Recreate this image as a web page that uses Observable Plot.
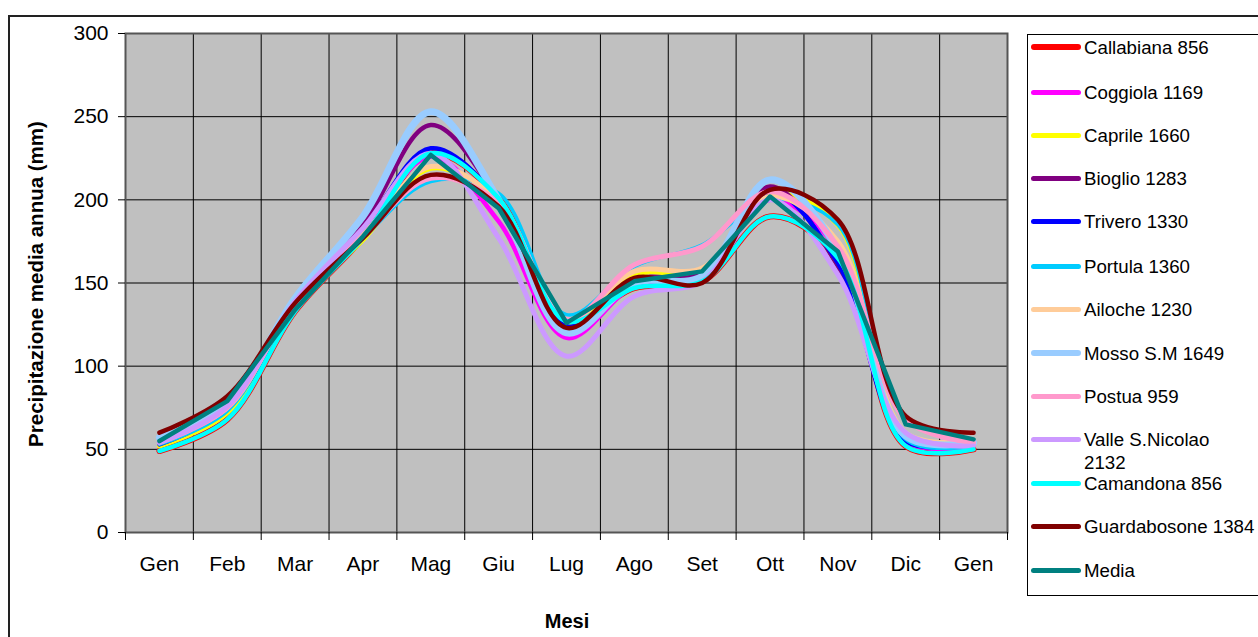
<!DOCTYPE html>
<html>
<head>
<meta charset="utf-8">
<script src="https://cdn.jsdelivr.net/npm/d3@7"></script>
<script src="https://cdn.jsdelivr.net/npm/@observablehq/plot@0.6"></script>
<style>
  html, body { margin: 0; padding: 0; background: #fff; }
  body { width: 1258px; height: 637px; position: relative; overflow: hidden; font-family: "Liberation Sans", Arial, sans-serif; }
  #outer { position: absolute; left: 8px; top: 15px; width: 1260px; height: 640px; border-left: 2px solid #222; border-top: 2px solid #222; box-sizing: border-box; }
  #chart { position: absolute; left: 0; top: 0; }
  #ytitle { position: absolute; left: 36px; top: 284px; transform: translate(-50%, -50%) rotate(-90deg); font-weight: bold; font-size: 20.5px; white-space: nowrap; }
  #xtitle { position: absolute; left: 567px; top: 621px; transform: translate(-50%, -50%); font-weight: bold; font-size: 20px; }
  #legend { position: absolute; left: 1027px; top: 34px; width: 240px; height: 562px; border: 1px solid #000; box-sizing: border-box; background: #fff; }
  .item { position: absolute; left: 0; width: 240px; }
  .swatch { position: absolute; left: 3px; width: 50px; border-radius: 3px; }
  .label { position: absolute; left: 56px; font-size: 18.7px; line-height: 23px; width: 172px; }
</style>
</head>
<body>
<div id="outer"></div>
<div id="chart"></div>
<div id="ytitle">Precipitazione media annua (mm)</div>
<div id="xtitle">Mesi</div>
<div id="legend"></div>
<script>
// Month labels (x categories)
const months = ["Gen","Feb","Mar","Apr","Mag","Giu","Lug","Ago","Set","Ott","Nov","Dic","Gen"];
const yTicks = [0, 50, 100, 150, 200, 250, 300];

// Station names and colours
const stations = ["Callabiana 856","Coggiola 1169","Caprile 1660","Bioglio 1283","Trivero 1330","Portula 1360","Ailoche 1230","Mosso S.M 1649","Postua 959","Valle S.Nicolao 2132","Camandona 856","Guardabosone 1384","Media"];
const colors = ["#ff0000","#ff00ff","#ffff00","#800080","#0000ff","#00ccff","#ffcc99","#99ccff","#ff99cc","#cc99ff","#00ffff","#800000","#008080"];

// Monthly values (mm), Gen..Dic, Gen
const callabiana   = [49, 68, 133, 177, 228, 201, 127, 147, 151, 190, 165, 52, 50];
const coggiola     = [52, 73, 136, 180, 226, 187, 117, 148, 152, 200, 170, 55, 52];
const caprile      = [52, 72, 136, 176, 219, 198, 125, 155, 158, 203, 185, 58, 53];
const bioglio      = [55, 76, 139, 185, 245, 200, 123, 152, 156, 208, 160, 58, 55];
const trivero      = [53, 74, 137, 182, 231, 200, 124, 150, 154, 205, 162, 55, 54];
const portula      = [53, 73, 137, 177, 211, 204, 131, 160, 173, 200, 185, 56, 52];
const ailoche      = [55, 75, 138, 179, 220, 199, 128, 157, 159, 202, 175, 60, 55];
const mosso        = [57, 77, 141, 190, 253, 200, 120, 150, 154, 212, 170, 58, 54];
const postua       = [54, 75, 138, 178, 213, 198, 128, 161, 172, 205, 172, 68, 54];
const valle        = [54, 76, 139, 183, 228, 177, 106, 142, 151, 200, 155, 60, 52];
const camandona    = [49, 68, 133, 177, 228, 201, 127, 147, 151, 190, 165, 52, 50];
const guardabosone = [60, 82, 138, 177, 215, 196, 123, 153, 150, 206, 188, 70, 60];
const media        = [55, 79, 134, 178, 227, 195, 126, 151, 157, 202, 169, 65, 56];

const series = [callabiana, coggiola, caprile, bioglio, trivero, portula, ailoche, mosso, postua, valle, camandona, guardabosone, media];
const widths = [6, 4.5, 5, 4.5, 4.5, 3.5, 5, 7, 5, 5, 4.5, 4.5, 4.5];
const smooth = [true, true, true, true, true, true, true, true, true, true, true, true, false];

const rows = [];
stations.forEach((s, k) => series[k].forEach((v, i) => rows.push({s, x: i + 0.5, y: v})));

const lineMarks = stations.map((s, k) =>
  Plot.line(rows.filter(d => d.s === s), {
    x: "x", y: "y", stroke: colors[k], strokeWidth: widths[k],
    curve: smooth[k] ? "catmull-rom" : "linear", strokeLinejoin: "round", strokeLinecap: "round"
  })
);

const chart = Plot.plot({
  width: 1020,
  height: 637,
  marginLeft: 125,
  marginRight: 13,
  marginTop: 33,
  marginBottom: 105,
  style: { fontFamily: "'Liberation Sans', Arial, sans-serif", fontSize: "21px", background: "transparent", color: "#000" },
  x: { domain: [0, 13] },
  y: { domain: [0, 300] },
  marks: [
    Plot.frame({ fill: "#c0c0c0" }),
    Plot.ruleY(yTicks, { stroke: "#000", strokeWidth: 1 }),
    Plot.ruleX(d3.range(0, 14), { stroke: "#000", strokeWidth: 1 }),
    ...lineMarks,
    Plot.frame({ stroke: "#555", strokeWidth: 2 }),
    Plot.axisY({ ticks: yTicks, tickSize: 7, tickPadding: 10, label: null, fontSize: 21 }),
    Plot.axisX({ ticks: d3.range(0, 14), tickSize: 8, tickFormat: () => "", label: null }),
    Plot.axisX({ ticks: months.map((m, i) => i + 0.5), tickSize: 0, tickPadding: 24, tickFormat: v => months[Math.round(v - 0.5)], label: null, fontSize: 21 })
  ]
});
document.getElementById("chart").appendChild(chart);

// Legend
const legend = document.getElementById("legend");
const rowY = [12, 57, 100, 143, 186, 231, 274, 318, 361, 404, 448, 491, 535];
stations.forEach((s, k) => {
  const item = document.createElement("div");
  item.className = "item";
  item.style.top = rowY[k] + "px";
  const sw = document.createElement("div");
  sw.className = "swatch";
  sw.style.background = colors[k];
  const h = k === 0 || k === 7 ? 6 : 5;
  sw.style.height = h + "px";
  sw.style.top = (-h / 2) + "px";
  const lb = document.createElement("div");
  lb.className = "label";
  lb.style.top = "-11px";
  lb.textContent = s;
  item.appendChild(sw);
  item.appendChild(lb);
  legend.appendChild(item);
});
</script>
</body>
</html>
